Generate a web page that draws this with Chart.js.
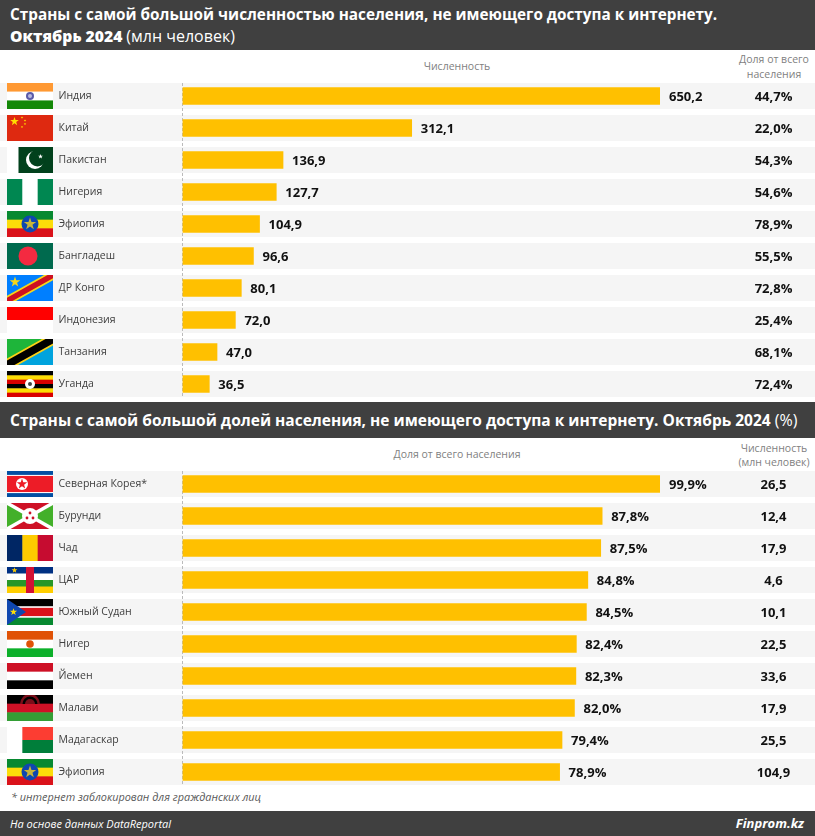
<!DOCTYPE html>
<html lang="ru">
<head>
    <meta charset="UTF-8">
    <title>Страны без доступа к интернету</title>
    <script src="https://cdn.jsdelivr.net/npm/chart.js"></script>
    <style>
        body {
            margin: 0;
            background: #fff;
            font-family: "Open Sans", Arial, sans-serif;
        }

        #page {
            position: relative;
            width: 815px;
            height: 836px;
            overflow: hidden;
        }

        #page div, #page canvas {
            position: absolute;
        }

        .band {
            left: 0;
            width: 815px;
            background: #404040;
            color: #fff;
        }

        .title {
            left: 10px;
            font-size: 15.3px;
            font-weight: 700;
            line-height: 22px;
            white-space: nowrap;
        }

        .title span {
            font-weight: 400;
            font-size: 16px;
        }

        .head {
            color: #7f7f7f;
            font-size: 10.5px;
            line-height: 15px;
            text-align: center;
            white-space: nowrap;
        }
    </style>
</head>
<body>
<div id="page">
    <div class="band" style="top:0;height:50px">
        <div class="title" style="top:3px">Страны с самой большой численностью населения, не имеющего доступа к интернету.<br><b style="font-size:15.7px">Октябрь 2024</b> <span>(млн человек)</span></div>
    </div>
    <div class="head" style="left:357px;width:200px;top:59px">Численность</div>
    <div class="head" style="left:714px;width:120px;top:52px">Доля от всего<br>населения</div>
    <canvas id="chartTop" width="815" height="320" style="left:0;top:80px"></canvas>

    <div class="band" style="top:402px;height:36px">
        <div class="title" style="top:7px;font-size:15.5px">Страны с самой большой долей населения, не имеющего доступа к интернету. Октябрь 2024 <span>(%)</span></div>
    </div>
    <div class="head" style="left:357px;width:200px;top:447px">Доля от всего населения</div>
    <div class="head" style="left:714px;width:120px;top:441px;line-height:14px">Численность<br>(млн человек)</div>
    <canvas id="chartBottom" width="815" height="320" style="left:0;top:468px"></canvas>

    <div style="left:11px;top:789px;font-size:10.9px;font-style:italic;color:#595959;white-space:nowrap">* интернет заблокирован для гражданских лиц</div>
    <div class="band" style="top:811px;height:25px">
        <div style="left:10px;top:5px;font-size:11px;font-style:italic;white-space:nowrap">На основе данных DataReportal</div>
        <div style="right:11px;top:3px;font-size:13px;font-weight:700;font-style:italic;white-space:nowrap">Finprom.kz</div>
    </div>
</div>

<script>
    // Chart data
    const countriesTop = ['Индия', 'Китай', 'Пакистан', 'Нигерия', 'Эфиопия', 'Бангладеш', 'ДР Конго', 'Индонезия', 'Танзания', 'Уганда'];
    const offlineTop = [650.2, 312.1, 136.9, 127.7, 104.9, 96.6, 80.1, 72.0, 47.0, 36.5];
    const shareTop = [44.7, 22.0, 54.3, 54.6, 78.9, 55.5, 72.8, 25.4, 68.1, 72.4];

    const countriesBottom = ['Северная Корея*', 'Бурунди', 'Чад', 'ЦАР', 'Южный Судан', 'Нигер', 'Йемен', 'Малави', 'Мадагаскар', 'Эфиопия'];
    const shareBottom = [99.9, 87.8, 87.5, 84.8, 84.5, 82.4, 82.3, 82.0, 79.4, 78.9];
    const offlineBottom = [26.5, 12.4, 17.9, 4.6, 10.1, 22.5, 33.6, 17.9, 25.5, 104.9];

    const comma = (v) => v.toFixed(1).replace('.', ',');
    const percent = (v) => comma(v) + '%';

    // Flag helpers, all in fractions of the flag box
    function hStripes(c, x, y, w, h, list) {
        let top = 0;
        list.forEach(([color, part]) => {
            c.fillStyle = color;
            c.fillRect(x, y + top * h, w, part * h + 0.5);
            top += part;
        });
    }

    function vStripes(c, x, y, w, h, list) {
        let left = 0;
        list.forEach(([color, part]) => {
            c.fillStyle = color;
            c.fillRect(x + left * w, y, part * w + 0.5, h);
            left += part;
        });
    }

    function disc(c, x, y, r, color) {
        c.fillStyle = color;
        c.beginPath();
        c.arc(x, y, r, 0, Math.PI * 2);
        c.fill();
    }

    function star(c, x, y, r, color) {
        c.fillStyle = color;
        c.beginPath();
        for (let i = 0; i < 10; i++) {
            const rad = i % 2 ? r * 0.4 : r;
            const a = -Math.PI / 2 + i * Math.PI / 5;
            c.lineTo(x + Math.cos(a) * rad, y + Math.sin(a) * rad);
        }
        c.closePath();
        c.fill();
    }

    function poly(c, color, points) {
        c.fillStyle = color;
        c.beginPath();
        points.forEach(([px, py]) => c.lineTo(px, py));
        c.closePath();
        c.fill();
    }

    function band(c, color, width, x1, y1, x2, y2) {
        c.strokeStyle = color;
        c.lineWidth = width;
        c.beginPath();
        c.moveTo(x1, y1);
        c.lineTo(x2, y2);
        c.stroke();
    }

    const ethiopia = (c, x, y, w, h) => {
        hStripes(c, x, y, w, h, [['#078930', 1 / 3], ['#FCDD09', 1 / 3], ['#DA121A', 1 / 3]]);
        disc(c, x + w / 2, y + h / 2, 8.5, '#0F47AF');
        star(c, x + w / 2, y + h / 2, 6.5, '#C8B53A');
    };

    const flags = {
        'Индия': (c, x, y, w, h) => {
            hStripes(c, x, y, w, h, [['#FF9933', 0.33], ['#FFFFFF', 0.34], ['#138808', 0.33]]);
            disc(c, x + w / 2, y + h / 2, 4, '#5A5AA8');
            disc(c, x + w / 2, y + h / 2, 2, '#B9B9E0');
        },
        'Китай': (c, x, y, w, h) => {
            c.fillStyle = '#DE2910';
            c.fillRect(x, y, w, h);
            star(c, x + 7.5, y + 6.5, 4.5, '#FFDE00');
            star(c, x + 15, y + 2.5, 1.3, '#FFDE00');
            star(c, x + 18, y + 5.5, 1.3, '#FFDE00');
            star(c, x + 18, y + 9, 1.3, '#FFDE00');
            star(c, x + 15, y + 12, 1.3, '#FFDE00');
        },
        'Пакистан': (c, x, y, w, h) => {
            vStripes(c, x, y, w, h, [['#FFFFFF', 0.25], ['#01411C', 0.75]]);
            disc(c, x + 28, y + 13, 9, '#FFFFFF');
            disc(c, x + 30.5, y + 11, 8.5, '#01411C');
            star(c, x + 33.5, y + 9.5, 2.6, '#FFFFFF');
        },
        'Нигерия': (c, x, y, w, h) => vStripes(c, x, y, w, h, [['#008751', 1 / 3], ['#FFFFFF', 1 / 3], ['#008751', 1 / 3]]),
        'Эфиопия': ethiopia,
        'Бангладеш': (c, x, y, w, h) => {
            c.fillStyle = '#006A4E';
            c.fillRect(x, y, w, h);
            disc(c, x + 21, y + h / 2, 9.5, '#F42A41');
        },
        'ДР Конго': (c, x, y, w, h) => {
            c.fillStyle = '#007FFF';
            c.fillRect(x, y, w, h);
            band(c, '#F7D618', 9, x - 2, y + h + 1, x + w + 2, y - 1);
            band(c, '#CE1021', 5.5, x - 2, y + h + 1, x + w + 2, y - 1);
            star(c, x + 8, y + 7, 5.5, '#F7D618');
        },
        'Индонезия': (c, x, y, w, h) => hStripes(c, x, y, w, h, [['#FF0000', 0.5], ['#FFFFFF', 0.5]]),
        'Танзания': (c, x, y, w, h) => {
            poly(c, '#1EB53A', [[x, y], [x + w, y], [x, y + h]]);
            poly(c, '#00A3DD', [[x + w, y], [x + w, y + h], [x, y + h]]);
            band(c, '#FCD116', 11, x - 2, y + h + 1, x + w + 2, y - 1);
            band(c, '#000000', 7.5, x - 2, y + h + 1, x + w + 2, y - 1);
        },
        'Уганда': (c, x, y, w, h) => {
            hStripes(c, x, y, w, h, [['#000000', 1 / 6], ['#FCDC04', 1 / 6], ['#D90000', 1 / 6], ['#000000', 1 / 6], ['#FCDC04', 1 / 6], ['#D90000', 1 / 6]]);
            disc(c, x + w / 2, y + h / 2, 5, '#FFFFFF');
            disc(c, x + w / 2, y + h / 2, 2, '#444444');
        },
        'Северная Корея*': (c, x, y, w, h) => {
            hStripes(c, x, y, w, h, [['#024FA2', 0.15], ['#FFFFFF', 0.04], ['#ED1C27', 0.62], ['#FFFFFF', 0.04], ['#024FA2', 0.15]]);
            disc(c, x + 15, y + h / 2, 6, '#FFFFFF');
            star(c, x + 15, y + h / 2, 5.5, '#ED1C27');
        },
        'Бурунди': (c, x, y, w, h) => {
            c.fillStyle = '#43B02A';
            c.fillRect(x, y, w, h);
            poly(c, '#CE1126', [[x, y], [x + w, y], [x + w / 2, y + h / 2]]);
            poly(c, '#CE1126', [[x, y + h], [x + w, y + h], [x + w / 2, y + h / 2]]);
            band(c, '#FFFFFF', 3.5, x, y, x + w, y + h);
            band(c, '#FFFFFF', 3.5, x, y + h, x + w, y);
            disc(c, x + w / 2, y + h / 2, 8, '#FFFFFF');
            disc(c, x + w / 2, y + 10, 1.4, '#CE1126');
            disc(c, x + w / 2 - 3, y + 15, 1.4, '#CE1126');
            disc(c, x + w / 2 + 3, y + 15, 1.4, '#CE1126');
        },
        'Чад': (c, x, y, w, h) => vStripes(c, x, y, w, h, [['#002664', 1 / 3], ['#FECB00', 1 / 3], ['#C60C30', 1 / 3]]),
        'ЦАР': (c, x, y, w, h) => {
            hStripes(c, x, y, w, h, [['#003082', 0.25], ['#FFFFFF', 0.25], ['#289728', 0.25], ['#FFCE00', 0.25]]);
            c.fillStyle = '#D21034';
            c.fillRect(x + 19, y, 8, h);
            star(c, x + 7.5, y + 3.3, 3, '#FFCE00');
        },
        'Южный Судан': (c, x, y, w, h) => {
            hStripes(c, x, y, w, h, [['#000000', 0.28], ['#FFFFFF', 0.06], ['#DA121A', 0.32], ['#FFFFFF', 0.06], ['#078930', 0.28]]);
            poly(c, '#0F47AF', [[x, y], [x + 19, y + h / 2], [x, y + h]]);
            star(c, x + 6.5, y + h / 2, 3.8, '#FCDD09');
        },
        'Нигер': (c, x, y, w, h) => {
            hStripes(c, x, y, w, h, [['#E05206', 1 / 3], ['#FFFFFF', 1 / 3], ['#0DB02B', 1 / 3]]);
            disc(c, x + w / 2, y + h / 2, 3.8, '#E05206');
        },
        'Йемен': (c, x, y, w, h) => hStripes(c, x, y, w, h, [['#CE1126', 1 / 3], ['#FFFFFF', 1 / 3], ['#000000', 1 / 3]]),
        'Малави': (c, x, y, w, h) => {
            hStripes(c, x, y, w, h, [['#000000', 1 / 3], ['#CE1126', 1 / 3], ['#339E35', 1 / 3]]);
            c.fillStyle = '#7A0E1A';
            c.beginPath();
            c.arc(x + w / 2, y + 9, 10, Math.PI, 0);
            c.fill();
            c.fillStyle = '#000000';
            c.beginPath();
            c.arc(x + w / 2, y + 9, 7.5, Math.PI, 0);
            c.fill();
            c.fillStyle = '#7A0E1A';
            c.beginPath();
            c.arc(x + w / 2, y + 9, 5, Math.PI, 0);
            c.fill();
        },
        'Мадагаскар': (c, x, y, w, h) => {
            vStripes(c, x, y, w, h, [['#FFFFFF', 1 / 3]]);
            c.fillStyle = '#FC3D32';
            c.fillRect(x + w / 3, y, w * 2 / 3, h / 2);
            c.fillStyle = '#007E3A';
            c.fillRect(x + w / 3, y + h / 2, w * 2 / 3, h / 2);
        }
    };

    // Stripes, flags, dashed base line behind the bars
    const rowsPlugin = {
        id: 'rows',
        beforeDraw(chart) {
            const c = chart.ctx;
            const yScale = chart.scales.y;
            const halfRow = 13;
            chart.data.labels.forEach((name, i) => {
                const y = yScale.getPixelForValue(i);
                c.fillStyle = '#F5F5F5';
                c.fillRect(0, y - halfRow, chart.width, halfRow * 2);
                c.save();
                c.beginPath();
                c.rect(7, y - halfRow, 46, halfRow * 2);
                c.clip();
                flags[name](c, 7, y - halfRow, 46, halfRow * 2);
                c.restore();
            });
            const first = yScale.getPixelForValue(0) - halfRow;
            const last = yScale.getPixelForValue(chart.data.labels.length - 1) + halfRow;
            c.save();
            c.strokeStyle = '#BBBBBB';
            c.setLineDash([3, 2]);
            c.beginPath();
            c.moveTo(chart.chartArea.left, first);
            c.lineTo(chart.chartArea.left, last);
            c.stroke();
            c.restore();
        }
    };

    // Numbers at the bar ends and in the right hand column
    const valuesPlugin = {
        id: 'values',
        afterDatasetsDraw(chart, args, opts) {
            const c = chart.ctx;
            const xScale = chart.scales.x;
            const yScale = chart.scales.y;
            c.save();
            c.fillStyle = '#111111';
            c.font = '700 13px "Open Sans"';
            c.textBaseline = 'middle';
            chart.data.datasets[0].data.forEach((v, i) => {
                const y = yScale.getPixelForValue(i) + 1;
                c.textAlign = 'left';
                c.fillText(opts.barLabel(v), xScale.getPixelForValue(v) + 9, y);
                c.textAlign = 'center';
                c.fillText(opts.sideLabel(opts.side[i]), 773.5, y);
            });
            c.restore();
        }
    };

    function makeChart(id, labels, values, side, barLabel, sideLabel) {
        return new Chart(document.getElementById(id), {
            type: 'bar',
            data: {
                labels: labels,
                datasets: [{
                    data: values,
                    backgroundColor: '#FFC000',
                    barThickness: 17
                }]
            },
            options: {
                indexAxis: 'y',
                responsive: false,
                animation: false,
                layout: {
                    autoPadding: false,
                    padding: { left: 58.5, right: 155, top: 0, bottom: 0 }
                },
                scales: {
                    x: {
                        display: false,
                        min: 0,
                        max: Math.max(...values)
                    },
                    y: {
                        afterFit(scale) {
                            // fixed label column, no extra room above and below the rows
                            scale.width = 124;
                            scale.paddingTop = 0;
                            scale.paddingBottom = 0;
                        },
                        grid: { display: false, drawTicks: false },
                        border: { display: false },
                        ticks: {
                            autoSkip: false,
                            crossAlign: 'far',
                            color: '#404040',
                            padding: 0,
                            font: { family: '"Open Sans"', size: 10.5 }
                        }
                    }
                },
                plugins: {
                    legend: { display: false },
                    tooltip: { enabled: false },
                    values: { side: side, barLabel: barLabel, sideLabel: sideLabel }
                }
            },
            plugins: [rowsPlugin, valuesPlugin]
        });
    }

    makeChart('chartTop', countriesTop, offlineTop, shareTop, comma, percent);
    makeChart('chartBottom', countriesBottom, shareBottom, offlineBottom, percent, comma);
</script>
</body>
</html>
